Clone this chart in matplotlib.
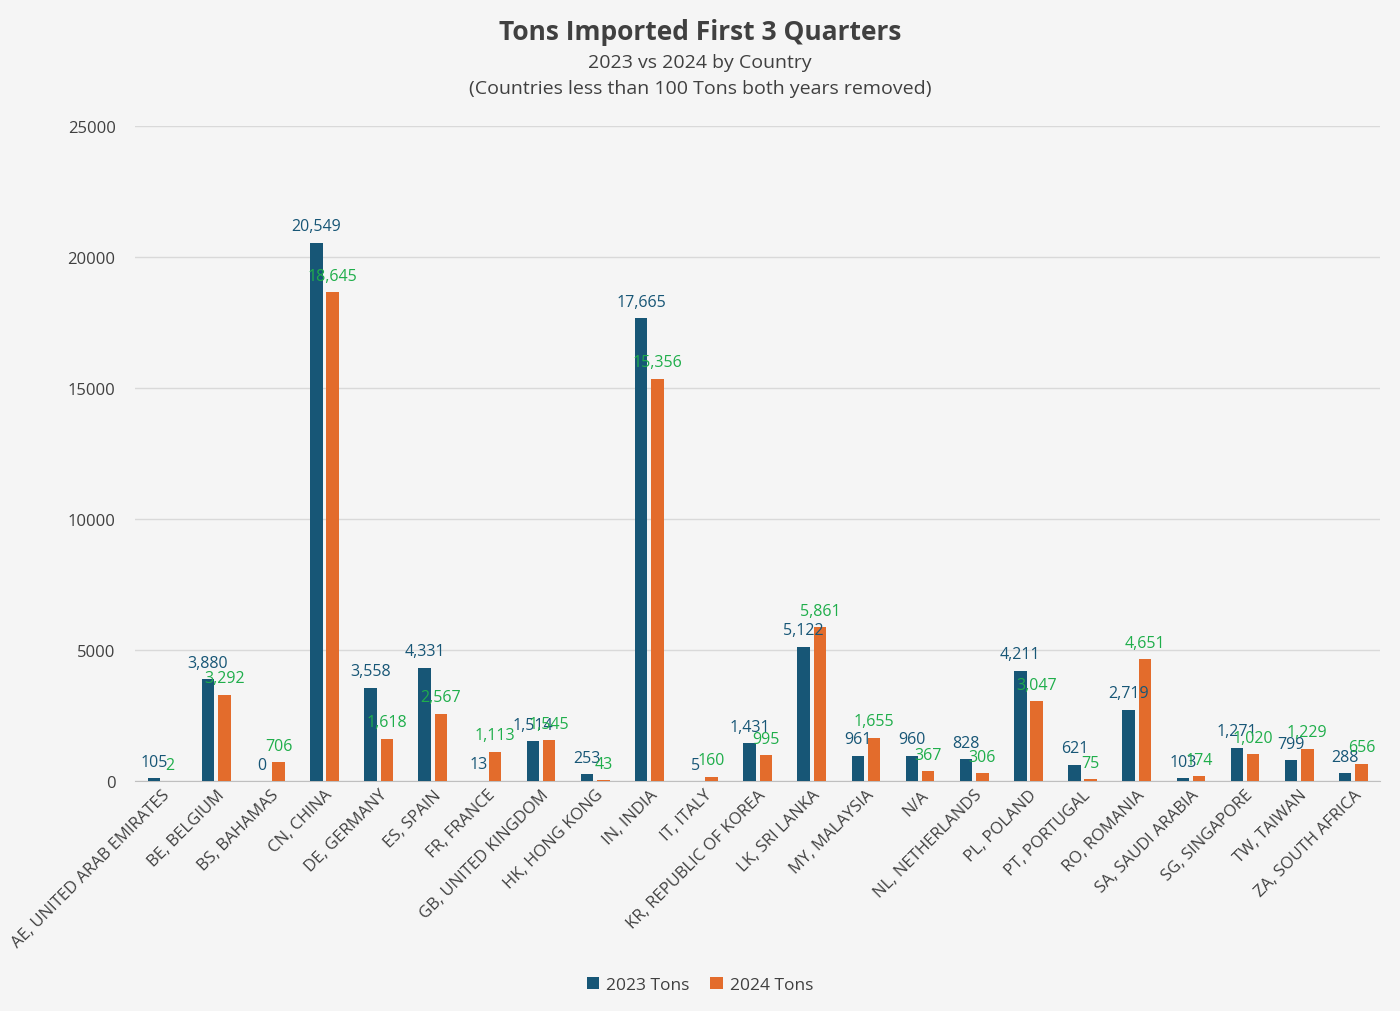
import matplotlib
matplotlib.use("Agg")
import matplotlib.pyplot as plt
import numpy as np

plt.rcParams['font.family'] = ['Open Sans', 'DejaVu Sans']

countries = ['AE, UNITED ARAB EMIRATES', 'BE, BELGIUM', 'BS, BAHAMAS', 'CN, CHINA',
             'DE, GERMANY', 'ES, SPAIN', 'FR, FRANCE', 'GB, UNITED KINGDOM',
             'HK, HONG KONG', 'IN, INDIA', 'IT, ITALY', 'KR, REPUBLIC OF KOREA',
             'LK, SRI LANKA', 'MY, MALAYSIA', 'N/A', 'NL, NETHERLANDS', 'PL, POLAND',
             'PT, PORTUGAL', 'RO, ROMANIA', 'SA, SAUDI ARABIA', 'SG, SINGAPORE',
             'TW, TAIWAN', 'ZA, SOUTH AFRICA']
tons_2023 = [105, 3880, 0, 20549, 3558, 4331, 13, 1514, 253, 17665, 5, 1431,
             5122, 961, 960, 828, 4211, 621, 2719, 103, 1271, 799, 288]
tons_2024 = [2, 3292, 706, 18645, 1618, 2567, 1113, 1545, 43, 15356, 160, 995,
             5861, 1655, 367, 306, 3047, 75, 4651, 174, 1020, 1229, 656]

bg = '#f5f5f5'
blue = '#175676'
orange = '#e36c2c'
green = '#1fae4b'
txt = '#404040'

fig = plt.figure(figsize=(14, 10.12), dpi=100, facecolor=bg)
ax = fig.add_axes([0.0964, 0.2273, 0.8896, 0.6472])
ax.set_facecolor(bg)

x = np.arange(len(countries))
w = 0.23
b1 = ax.bar(x - 0.15, tons_2023, w, color=blue, label='2023 Tons', zorder=3)
b2 = ax.bar(x + 0.15, tons_2024, w, color=orange, label='2024 Tons', zorder=3)

# data labels, they overlap in the original too
for xi, v in zip(x, tons_2023):
    ax.annotate(f'{v:,}', (xi - 0.15, v), xytext=(0, 6), textcoords='offset points',
                ha='center', va='bottom', fontsize=11.5, color=blue, zorder=4)
for xi, v in zip(x, tons_2024):
    ax.annotate(f'{v:,}', (xi + 0.15, v), xytext=(0, 6), textcoords='offset points',
                ha='center', va='bottom', fontsize=11.5, color=green, zorder=4)

ax.set_ylim(0, 25000)
ax.set_xlim(-0.5, len(countries) - 0.5)
ax.set_yticks(range(0, 25001, 5000))
ax.yaxis.grid(True, color='#d9d9d9', linewidth=1, zorder=0)
ax.tick_params(axis='y', length=0, labelsize=12, labelcolor=txt, pad=14)
ax.tick_params(axis='x', length=0, labelsize=12, labelcolor=txt, pad=4)
ax.set_xticks(x)
ax.set_xticklabels(countries, rotation=45, ha='right', rotation_mode='anchor')
for s in ['top', 'right', 'left']:
    ax.spines[s].set_visible(False)
ax.spines['bottom'].set_color('#bfbfbf')

fig.text(0.5, 0.968, 'Tons Imported First 3 Quarters', ha='center', va='center',
         fontsize=19, fontweight='bold', color=txt)
fig.text(0.5, 0.938, '2023 vs 2024 by Country', ha='center', va='center',
         fontsize=14, color=txt)
fig.text(0.5, 0.912, '(Countries less than 100 Tons both years removed)', ha='center',
         va='center', fontsize=14, color=txt)

fig.legend(handles=[b1, b2], loc='center', bbox_to_anchor=(0.5, 0.026), ncol=2,
           frameon=False, fontsize=12.5, handlelength=0.7, handleheight=0.7,
           columnspacing=1.2, handletextpad=0.4, labelcolor=txt)

fig.savefig('out.png', dpi=100, facecolor=bg)
